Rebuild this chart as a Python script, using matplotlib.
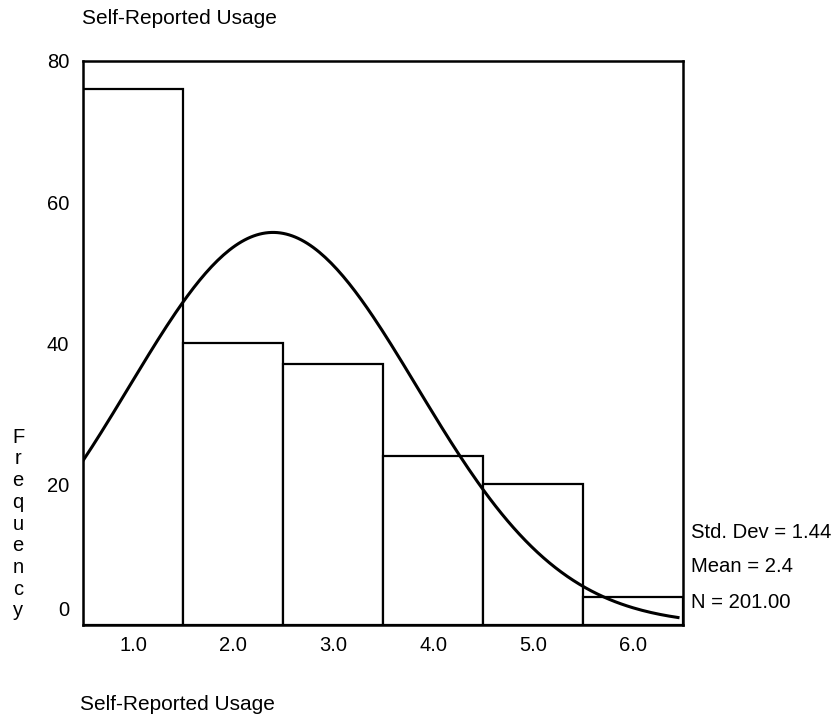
import numpy as np
import matplotlib.pyplot as plt

# Histogram data
categories = [1.0, 2.0, 3.0, 4.0, 5.0, 6.0]
frequencies = [76, 40, 37, 24, 20, 4]
tick_labels = ['1.0', '2.0', '3.0', '4.0', '5.0', '6.0']
y_ticks = [0, 20, 40, 60, 80]

# Summary statistics shown on the chart
std_dev = 1.44
mean = 2.4
n_total = 201.00

plt.rcParams['font.family'] = ['Liberation Sans', 'DejaVu Sans']

fig = plt.figure(figsize=(8.37, 7.21), dpi=100)
ax = fig.add_axes([0.0992, 0.1331, 0.7168, 0.7823])

ax.bar(categories, frequencies, width=1.0, color='white',
       edgecolor='black', linewidth=1.6, zorder=2)

# Fitted normal curve from the reported mean / sd / N (bin width 1)
xs = np.linspace(0.5, 6.45, 200)
curve = n_total * 1.0 / (std_dev * np.sqrt(2 * np.pi)) * np.exp(-0.5 * ((xs - mean) / std_dev) ** 2)
ax.plot(xs, curve, color='black', linewidth=2.2, zorder=3)

ax.set_xlim(0.5, 6.5)
ax.set_ylim(0, 80)

ax.set_xticks(categories)
ax.set_xticklabels(tick_labels, fontsize=14.5)
ax.set_yticks(y_ticks[1:])
ax.set_yticklabels([str(v) for v in y_ticks[1:]], fontsize=14.5)
ax.tick_params(axis='both', length=0)
ax.tick_params(axis='x', pad=8)
ax.tick_params(axis='y', pad=10)
# SPSS places the zero label a little above the axis line
ax.annotate('0', xy=(0, y_ticks[0]), xycoords=('axes fraction', 'data'),
            xytext=(-14, 15), textcoords='offset pixels',
            ha='right', va='center', fontsize=14.5)

for s in ax.spines.values():
    s.set_linewidth(1.8)

# Vertical stacked axis title
fig.text(18 / 837, 1 - 524 / 721, '\n'.join('Frequency'), ha='center', va='center',
         fontsize=14.5, linespacing=1.18)

fig.text(82 / 837, 1 - 18 / 721, 'Self-Reported Usage', ha='left', va='center', fontsize=15)
fig.text(80 / 837, 1 - 705 / 721, 'Self-Reported Usage', ha='left', va='center', fontsize=15)

stats = [f'Std. Dev = {std_dev:.2f}', f'Mean = {mean:.1f}', f'N = {n_total:.2f}']
for i, s in enumerate(stats):
    fig.text(691 / 837, 1 - (532 + 35 * i) / 721, s, ha='left', va='center', fontsize=14.6)

fig.savefig('out.png', dpi=100, facecolor='white')
